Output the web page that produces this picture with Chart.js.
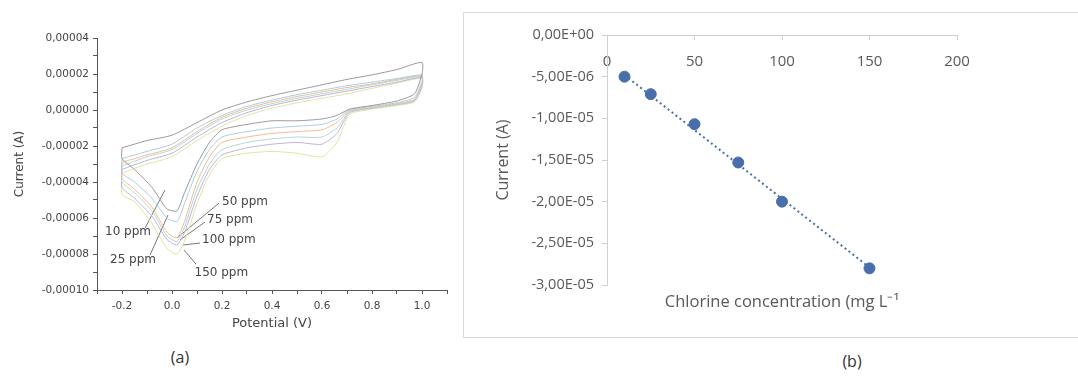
<!DOCTYPE html>
<html>
<head>
<meta charset="utf-8">
<script src="https://cdn.jsdelivr.net/npm/chart.js@4.4.1/dist/chart.umd.min.js"></script>
<style>
  body { margin: 0; width: 1078px; height: 380px; background: #fff; overflow: hidden; position: relative; }
  #wrapA { position: absolute; left: 0; top: 0; width: 460px; height: 340px; }
  #wrapB { position: absolute; left: 463px; top: 12px; width: 640px; height: 324px; border: 1px solid #d9d9d9; }
  .cap { position: absolute; font: 16px "Open Sans", sans-serif; color: #333; transform: translateX(-50%); }
</style>
</head>
<body>
<div id="wrapA"><canvas id="cv" width="460" height="340"></canvas></div>
<div id="wrapB"><canvas id="cal" width="640" height="324"></canvas></div>
<div class="cap" style="left:180px; top:346px;">(a)</div>
<div class="cap" style="left:852px; top:350px;">(b)</div>
<script>
'use strict';

// (a) cyclic voltammograms, potential in V, current in units of 1e-5 A
// forward scan -0.2 -> 1.0, then reverse back to -0.2
const potential = [-0.2, -0.1, 0.0, 0.1, 0.2, 0.3, 0.4, 0.5, 0.6, 0.7, 0.8, 0.9, 1.0,
    1.0, 0.97, 0.9, 0.8, 0.71, 0.66, 0.6, 0.5, 0.4, 0.3, 0.2, 0.15, 0.1, 0.05, 0.02, -0.02, -0.08, -0.15, -0.2, -0.2];

const cur10 = [-2.1, -1.7, -1.4, -0.7, 0.0, 0.45, 0.8, 1.1, 1.4, 1.7, 1.95, 2.25, 2.65,
    2.0, 0.9, 0.5, 0.25, 0.05, -0.3, -0.5, -0.6, -0.6, -0.8, -1.1, -1.8, -3.0, -4.6, -5.6, -5.5, -4.3, -3.3, -2.7, -2.1];
const cur25 = [-2.7, -2.3, -1.9, -1.0, -0.3, 0.2, 0.55, 0.85, 1.1, 1.35, 1.55, 1.75, 1.95,
    1.6, 0.7, 0.4, 0.2, 0.0, -0.5, -0.8, -0.9, -1.0, -1.2, -1.5, -2.2, -3.4, -5.2, -6.2, -6.0, -4.9, -4.0, -3.5, -2.7];
const cur50 = [-2.9, -2.5, -2.1, -1.2, -0.4, 0.1, 0.45, 0.75, 1.0, 1.25, 1.45, 1.7, 1.9,
    1.5, 0.6, 0.35, 0.15, -0.05, -0.7, -1.1, -1.2, -1.3, -1.5, -1.8, -2.6, -4.0, -6.2, -7.1, -6.8, -5.4, -4.4, -3.8, -2.9];
const cur75 = [-3.1, -2.6, -2.2, -1.3, -0.5, 0.0, 0.35, 0.65, 0.9, 1.15, 1.4, 1.65, 1.85,
    1.4, 0.55, 0.3, 0.1, -0.1, -1.0, -1.5, -1.5, -1.6, -1.8, -2.2, -3.0, -4.4, -6.5, -7.3, -7.0, -5.6, -4.6, -4.0, -3.1];
const cur100 = [-3.3, -2.8, -2.4, -1.5, -0.7, -0.15, 0.25, 0.55, 0.8, 1.05, 1.3, 1.55, 1.8,
    1.3, 0.5, 0.3, 0.1, -0.15, -1.3, -1.9, -1.8, -1.9, -2.1, -2.5, -3.3, -4.8, -6.8, -7.5, -7.2, -5.9, -4.9, -4.3, -3.3];
const cur150 = [-3.5, -3.0, -2.6, -1.7, -0.9, -0.3, 0.1, 0.4, 0.65, 0.9, 1.2, 1.5, 1.75,
    1.2, 0.45, 0.25, 0.05, -0.25, -1.8, -2.6, -2.4, -2.3, -2.4, -2.7, -3.6, -5.2, -7.3, -8.0, -7.7, -6.3, -5.1, -4.7, -3.5];

const cvCurves = [cur10, cur25, cur50, cur75, cur100, cur150];
const cvColors = ['#999999', '#a6cfe3', '#f4b890', '#acdad1', '#bdb1dc', '#e0e49e'];

const potentialTicks = [-0.3, -0.2, -0.1, 0.0, 0.1, 0.2, 0.3, 0.4, 0.5, 0.6, 0.7, 0.8, 0.9, 1.0, 1.1];
const potentialTickLabels = ['', '-0.2', '', '0.0', '', '0.2', '', '0.4', '', '0.6', '', '0.8', '', '1.0', ''];
const currentTicks = [-10, -9, -8, -7, -6, -5, -4, -3, -2, -1, 0, 1, 2, 3, 4];
const currentTickLabels = ['-0,00010', '', '-0,00008', '', '-0,00006', '', '-0,00004', '', '-0,00002', '', '0,00000', '', '0,00002', '', '0,00004'];

// ppm labels and their leader lines
const labelText = ['10 ppm', '25 ppm', '50 ppm', '75 ppm', '100 ppm', '150 ppm'];
const labelPotential = [-0.268, -0.248, 0.2, 0.14, 0.12, 0.09];
const labelCurrent = [-6.78, -8.33, -5.1, -6.1, -7.2, -9.05];
const leaderFromX = [-0.108, -0.088, 0.188, 0.132, 0.112, 0.096];
const leaderFromY = [-6.56, -8.06, -5.17, -6.22, -7.39, -8.56];
const leaderToX = [-0.028, -0.016, 0.02, 0.032, 0.044, 0.048];
const leaderToY = [-4.44, -5.83, -7.11, -7.22, -7.5, -7.78];

// (b) calibration
const chlorine = [10, 25, 50, 75, 100, 150];
const peakCurrent = [-5.0e-6, -7.1e-6, -1.07e-5, -1.53e-5, -2.0e-5, -2.8e-5];
const trendChlorine = [10, 150];
const trendCurrent = [-4.8e-6, -2.79e-5];

const dejavu = '"DejaVu Sans", sans-serif';
const opensans = '"Open Sans", sans-serif';

const cvDatasets = cvCurves.map((cur, k) => ({
    data: potential.map((p, i) => ({x: p, y: cur[i]})),
    showLine: true,
    borderColor: cvColors[k],
    borderWidth: 1,
    pointRadius: 0,
    tension: 0.2
}));

const leaderDatasets = labelText.map((t, i) => ({
    data: [{x: leaderFromX[i], y: leaderFromY[i]}, {x: leaderToX[i], y: leaderToY[i]}],
    showLine: true,
    borderColor: '#7a7a7a',
    borderWidth: 1,
    pointRadius: 0
}));

const ppmLabels = {
    id: 'ppmLabels',
    afterDatasetsDraw(chart) {
        const {ctx, scales: {x, y}} = chart;
        ctx.save();
        ctx.font = '12px ' + dejavu;
        ctx.fillStyle = '#444';
        ctx.textBaseline = 'middle';
        labelText.forEach((t, i) => {
            ctx.fillText(t, x.getPixelForValue(labelPotential[i]), y.getPixelForValue(labelCurrent[i]));
        });
        ctx.restore();
    }
};

new Chart(document.getElementById('cv'), {
    type: 'scatter',
    data: {datasets: cvDatasets.concat(leaderDatasets)},
    options: {
        responsive: false,
        animation: false,
        layout: {padding: {left: 0, right: 13, top: 38, bottom: 0}},
        plugins: {legend: {display: false}, tooltip: {enabled: false}},
        scales: {
            x: {
                type: 'linear', min: -0.3, max: 1.1,
                afterBuildTicks: s => { s.ticks = potentialTicks.map(v => ({value: v})); },
                afterFit: s => { s.height = 50; },
                grid: {drawOnChartArea: false, tickLength: 4, color: '#555'},
                border: {color: '#555'},
                ticks: {
                    padding: 6, color: '#444', font: {family: dejavu, size: 10.5},
                    maxRotation: 0, autoSkip: false,
                    callback: (v, i) => potentialTickLabels[i]
                },
                title: {display: true, text: 'Potential (V)', color: '#444', font: {family: dejavu, size: 13}, padding: {top: 0, bottom: 9}}
            },
            y: {
                type: 'linear', min: -10, max: 4,
                afterBuildTicks: s => { s.ticks = currentTicks.map(v => ({value: v})); },
                afterFit: s => { s.width = 97; },
                grid: {drawOnChartArea: false, tickLength: 4, color: '#555'},
                border: {color: '#555'},
                ticks: {
                    padding: 4, color: '#444', font: {family: dejavu, size: 10.5}, autoSkip: false,
                    callback: (v, i) => currentTickLabels[i]
                },
                title: {display: true, text: 'Current (A)', color: '#444', font: {family: dejavu, size: 12}, padding: {top: 13, bottom: 0}}
            }
        }
    },
    plugins: [ppmLabels]
});

function excelExp(v) {
    const parts = v.toExponential(2).split('e');
    const e = parseInt(parts[1], 10);
    return parts[0].replace('.', ',') + 'E' + (e < 0 ? '-' : '+') + String(Math.abs(e)).padStart(2, '0');
}

const xTitle = {
    id: 'xTitle',
    afterDraw(chart) {
        const {ctx, chartArea} = chart;
        ctx.save();
        ctx.font = '16.5px ' + opensans;
        ctx.fillStyle = '#595959';
        ctx.textAlign = 'center';
        ctx.textBaseline = 'middle';
        ctx.fillText('Chlorine concentration (mg L\u207B\u00B9', (chartArea.left + chartArea.right) / 2, chartArea.bottom + 17);
        ctx.restore();
    }
};

new Chart(document.getElementById('cal'), {
    type: 'scatter',
    data: {
        datasets: [
            {
                data: chlorine.map((c, i) => ({x: c, y: peakCurrent[i]})),
                backgroundColor: '#4a6ea9',
                borderColor: '#4a6ea9',
                pointRadius: 5.5
            },
            {
                data: trendChlorine.map((c, i) => ({x: c, y: trendCurrent[i]})),
                showLine: true,
                borderColor: '#4a6ea9',
                borderWidth: 2,
                borderDash: [2, 3],
                pointRadius: 0
            }
        ]
    },
    options: {
        responsive: false,
        animation: false,
        layout: {padding: {left: 30, right: 147, top: 22, bottom: 52}},
        plugins: {legend: {display: false}, tooltip: {enabled: false}},
        scales: {
            x: {
                type: 'linear', min: 0, max: 200, position: {y: 0},
                grid: {drawOnChartArea: false, tickLength: 4, color: '#d0d0d0'},
                border: {color: '#d0d0d0'},
                ticks: {stepSize: 50, padding: 14, color: '#595959', font: {family: opensans, size: 15}, maxRotation: 0}
            },
            y: {
                type: 'linear', min: -3e-5, max: 0,
                afterFit: s => { s.width = 113; },
                grid: {drawOnChartArea: false, tickLength: 5, color: '#d0d0d0'},
                border: {color: '#d0d0d0'},
                ticks: {stepSize: 5e-6, padding: 8, color: '#595959', font: {family: opensans, size: 14.5}, callback: v => excelExp(v)},
                title: {display: true, text: 'Current (A)', color: '#595959', font: {family: opensans, size: 16}, padding: 0}
            }
        }
    },
    plugins: [xTitle]
});
</script>
</body>
</html>
